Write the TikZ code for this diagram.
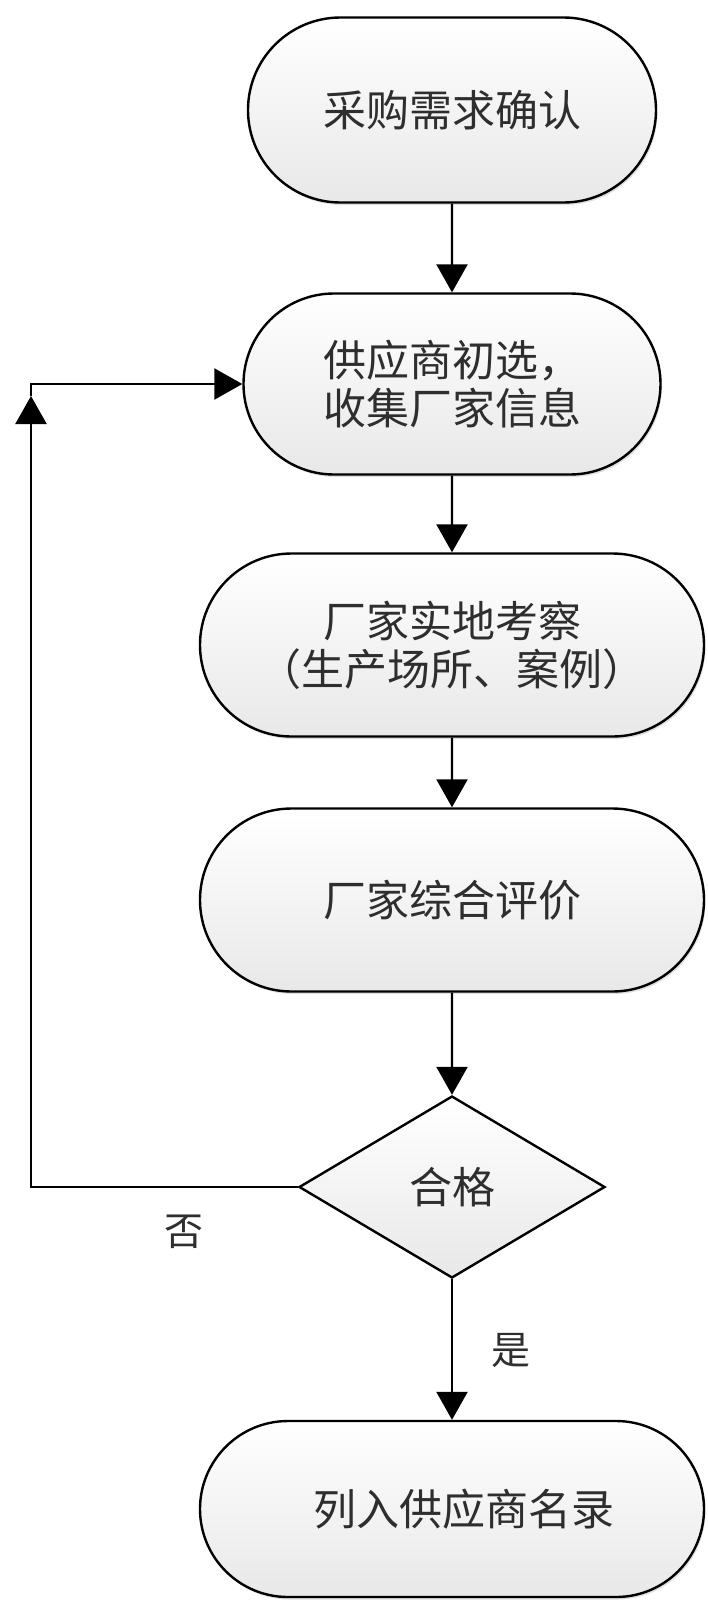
\documentclass[tikz,border=0pt]{standalone}
\usepackage{fontspec}
\newfontfamily\cjk{Noto Sans CJK SC}
\usetikzlibrary{shapes.misc,shapes.geometric,arrows.meta,shadows}
\definecolor{txt}{HTML}{2E2E2E}
\begin{document}
\begin{tikzpicture}[x=1pt,y=-1pt,
  term/.style={rounded rectangle, draw, line width=2.4pt, minimum width=#1,
    top color=white, bottom color=black!9,
    drop shadow={shadow xshift=1.5pt, shadow yshift=-2.5pt, opacity=0.25},
    font=\cjk\fontsize{43}{48}\selectfont, text=txt, align=center, inner sep=0pt},
  decide/.style={diamond, draw, line width=2.4pt, minimum width=306pt, minimum height=182pt,
    aspect=1.7, top color=white, bottom color=black!9, inner sep=0pt,
    font=\cjk\fontsize{43}{48}\selectfont, text=txt},
  lbl/.style={font=\cjk\fontsize{39}{44}\selectfont, text=txt},
  arr/.style={line width=2.4pt, -{Triangle[length=28pt,width=31pt]}}]
\useasboundingbox (0,0) rectangle (707,1601);
\node[term=408pt, minimum height=185pt] (n1) at (452,110) {采购需求确认};
\node[term=417pt, minimum height=181pt] (n2) at (452,384) {供应商初选，\\收集厂家信息};
\node[term=504pt, minimum height=183pt] (n3) at (452,645) {厂家实地考察\\（生产场所、案例）};
\node[term=504pt, minimum height=183pt] (n4) at (452,900) {厂家综合评价};
\node[decide] (d) at (452,1187) {合格};
\node[term=504pt, minimum height=176pt] (n5) at (452,1509) {\hspace*{24pt}列入供应商名录};
\node[lbl] (no) at (184,1232) {否};
\node[lbl] (yes) at (511,1350) {是};
\coordinate (cl) at (31,1187);
\coordinate (ct) at (31,396);
\draw[arr] (n1) -- (n2);
\draw[arr] (n2) -- (n3);
\draw[arr] (n3) -- (n4);
\draw[arr] (n4) -- (d);
\draw[arr] (d) -- (n5);
\draw[arr] (d.west) -- (cl) -- (ct);
\draw[arr] (ct) |- (n2.west);
\end{tikzpicture}
\end{document}
